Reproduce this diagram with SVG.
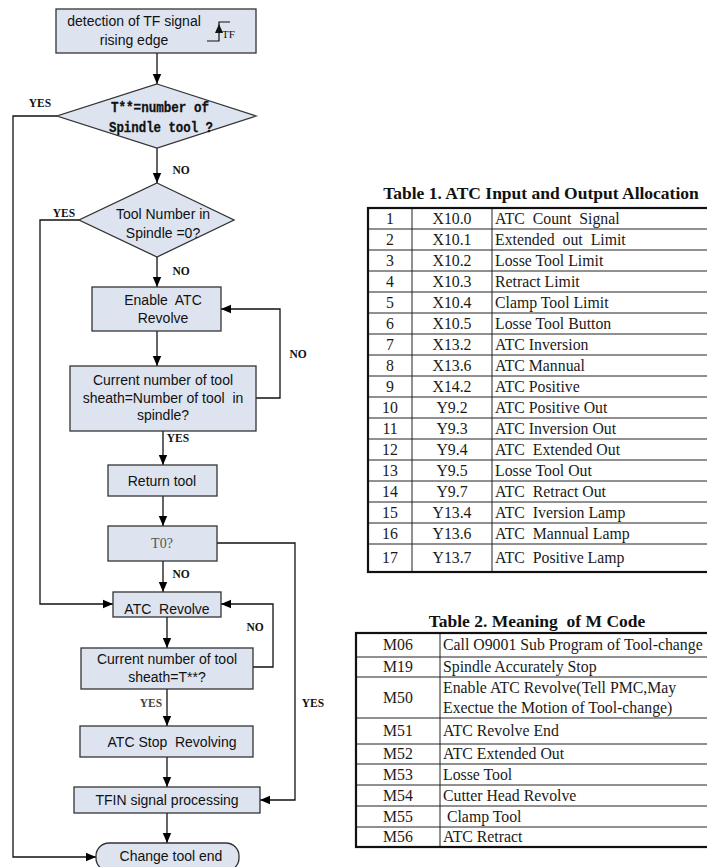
<svg xmlns="http://www.w3.org/2000/svg" width="707" height="867" viewBox="0 0 707 867">
<defs>
<marker id="arr" markerUnits="userSpaceOnUse" markerWidth="10" markerHeight="10" viewBox="0 0 10 10" refX="10" refY="5" orient="auto">
<path d="M0,0.8 L10,5 L0,9.2 Z" fill="#000"/>
</marker>
<style>
.box{fill:#dde4f0;stroke:#333;stroke-width:1.3}
.t{font-family:"Liberation Sans",Arial,sans-serif;font-size:14px;fill:#111;text-anchor:middle}
.m{font-family:"Liberation Mono","Courier New",monospace;font-size:15px;font-weight:bold;fill:#111;text-anchor:middle;stroke:#111;stroke-width:0.3}
.lb{font-family:"Liberation Serif","Times New Roman",serif;font-size:11.5px;font-weight:bold;fill:#111;text-anchor:middle}
.ca{fill:none;stroke:#111;stroke-width:1.3;marker-end:url(#arr)}
.tt{font-family:"Liberation Serif","Times New Roman",serif;font-size:17.5px;font-weight:bold;fill:#111;text-anchor:middle}
.tc{font-family:"Liberation Serif","Times New Roman",serif;font-size:15.8px;fill:#1a1a1a}
.tcc{text-anchor:middle}
.grid{stroke:#222;stroke-width:1;fill:none}
.outer{stroke:#111;stroke-width:2.2;fill:none}
</style>
</defs>
<g id="connectors">
<line class="ca" x1="157" y1="53" x2="157" y2="84"/>
<polyline class="ca" points="57,116 13,116 13,857 96,857"/>
<line class="ca" x1="157" y1="148" x2="157" y2="183"/>
<polyline class="ca" points="79,220 40,220 40,604 113,604"/>
<line class="ca" x1="157" y1="257" x2="157" y2="287"/>
<line class="ca" x1="157" y1="331" x2="157" y2="366"/>
<polyline class="ca" points="256,398 280,398 280,309 221,309"/>
<line class="ca" x1="163" y1="431" x2="163" y2="465"/>
<line class="ca" x1="163" y1="496" x2="163" y2="526"/>
<polyline class="ca" points="217,543 295,543 295,800 260,800"/>
<line class="ca" x1="163" y1="561" x2="163" y2="592"/>
<polyline class="ca" points="253,667 273,667 273,604 221,604"/>
<line class="ca" x1="167" y1="617" x2="167" y2="648"/>
<line class="ca" x1="167" y1="689" x2="167" y2="726"/>
<line class="ca" x1="167" y1="757" x2="167" y2="787"/>
<line class="ca" x1="167" y1="813" x2="167" y2="843"/>
<text class="lb" x="40" y="107">YES</text>
<text class="lb" x="181" y="174">NO</text>
<text class="lb" x="64" y="217">YES</text>
<text class="lb" x="181" y="275">NO</text>
<text class="lb" x="298" y="358">NO</text>
<text class="lb" x="178" y="442">YES</text>
<text class="lb" x="181" y="578">NO</text>
<text class="lb" x="255" y="631">NO</text>
<text class="lb" x="151" y="707" style="fill:#444">YES</text>
<text class="lb" x="313" y="707">YES</text>
</g>
<g id="n_detect">
<rect class="box" x="56" y="9" width="200" height="44"/>
<text class="t" x="134" y="26">detection of TF signal</text>
<text class="t" x="134" y="45">rising edge</text>
<polyline fill="none" stroke="#111" stroke-width="1.2" points="207,41 219,41 219,22 230,22"/>
<path d="M219,24 L215,33 L223,33 Z" fill="#111"/>
<text x="222" y="38" style="font-family:'Liberation Serif',serif;font-size:11px;fill:#111">TF</text>
</g>
<g id="n_cmp_spindle">
<polygon class="box" points="157,84 256,116 157,148 57,116"/>
<text class="m" x="160" y="112" textLength="98" lengthAdjust="spacingAndGlyphs">T**=number of</text>
<text class="m" x="161" y="132" textLength="104" lengthAdjust="spacingAndGlyphs">Spindle tool ?</text>
</g>
<g id="n_zero">
<polygon class="box" points="157,183 234,220 157,257 79,220"/>
<text class="t" x="163" y="219">Tool Number in</text>
<text class="t" x="163" y="238">Spindle =0?</text>
</g>
<g id="n_enable">
<rect class="box" x="92" y="287" width="129" height="44"/>
<text class="t" x="163" y="305">Enable&#160; ATC</text>
<text class="t" x="163" y="323">Revolve</text>
</g>
<g id="n_cur1">
<rect class="box" x="70" y="366" width="186" height="65"/>
<text class="t" x="163" y="385">Current number of tool</text>
<text class="t" x="163" y="403">sheath=Number of tool&#160; in</text>
<text class="t" x="163" y="420">spindle?</text>
</g>
<g id="n_return">
<rect class="box" x="108" y="465" width="109" height="31"/>
<text class="t" x="162" y="486">Return tool</text>
</g>
<g id="n_t0">
<rect class="box" x="108" y="526" width="109" height="35"/>
<text x="162" y="548" style="font-family:'Liberation Serif',serif;font-size:14px;fill:#555;text-anchor:middle">T0?</text>
</g>
<g id="n_revolve">
<rect class="box" x="113" y="592" width="108" height="25"/>
<text class="t" x="167" y="614">ATC&#160; Revolve</text>
</g>
<g id="n_cur2">
<rect class="box" x="81" y="648" width="172" height="41"/>
<text class="t" x="167" y="664">Current number of tool</text>
<text class="t" x="167" y="682">sheath=T**?</text>
</g>
<g id="n_stop">
<rect class="box" x="80" y="726" width="173" height="31"/>
<text class="t" x="172" y="747">ATC Stop&#160; Revolving</text>
</g>
<g id="n_tfin">
<rect class="box" x="74" y="787" width="186" height="26"/>
<text class="t" x="167" y="805">TFIN signal processing</text>
</g>
<g id="n_end">
<rect class="box" x="96" y="843" width="143" height="28" rx="13" ry="13"/>
<text class="t" x="171" y="861">Change tool end</text>
</g>
<g id="table1">
<text class="tt" x="541" y="199">Table 1. ATC Input and Output Allocation</text>
<g class="grid">
<line x1="412" y1="208" x2="412" y2="572"/>
<line x1="492" y1="208" x2="492" y2="572"/>
<line x1="368" y1="229" x2="710" y2="229"/>
<line x1="368" y1="250" x2="710" y2="250"/>
<line x1="368" y1="271" x2="710" y2="271"/>
<line x1="368" y1="292" x2="710" y2="292"/>
<line x1="368" y1="313" x2="710" y2="313"/>
<line x1="368" y1="334" x2="710" y2="334"/>
<line x1="368" y1="355" x2="710" y2="355"/>
<line x1="368" y1="376" x2="710" y2="376"/>
<line x1="368" y1="397" x2="710" y2="397"/>
<line x1="368" y1="418" x2="710" y2="418"/>
<line x1="368" y1="439" x2="710" y2="439"/>
<line x1="368" y1="460" x2="710" y2="460"/>
<line x1="368" y1="481" x2="710" y2="481"/>
<line x1="368" y1="502" x2="710" y2="502"/>
<line x1="368" y1="523" x2="710" y2="523"/>
<line x1="368" y1="544" x2="710" y2="544"/>
</g>
<rect class="outer" x="368" y="208" width="345" height="364"/>
<g class="tc">
<text class="tcc" x="390" y="224">1</text><text class="tcc" x="452" y="224">X10.0</text><text x="495" y="224">ATC&#160; Count&#160; Signal</text>
<text class="tcc" x="390" y="245">2</text><text class="tcc" x="452" y="245">X10.1</text><text x="495" y="245">Extended&#160; out&#160; Limit</text>
<text class="tcc" x="390" y="266">3</text><text class="tcc" x="452" y="266">X10.2</text><text x="495" y="266">Losse Tool Limit</text>
<text class="tcc" x="390" y="287">4</text><text class="tcc" x="452" y="287">X10.3</text><text x="495" y="287">Retract Limit</text>
<text class="tcc" x="390" y="308">5</text><text class="tcc" x="452" y="308">X10.4</text><text x="495" y="308">Clamp Tool Limit</text>
<text class="tcc" x="390" y="329">6</text><text class="tcc" x="452" y="329">X10.5</text><text x="495" y="329">Losse Tool Button</text>
<text class="tcc" x="390" y="350">7</text><text class="tcc" x="452" y="350">X13.2</text><text x="495" y="350">ATC Inversion</text>
<text class="tcc" x="390" y="371">8</text><text class="tcc" x="452" y="371">X13.6</text><text x="495" y="371">ATC Mannual</text>
<text class="tcc" x="390" y="392">9</text><text class="tcc" x="452" y="392">X14.2</text><text x="495" y="392">ATC Positive</text>
<text class="tcc" x="390" y="413">10</text><text class="tcc" x="452" y="413">Y9.2</text><text x="495" y="413">ATC Positive Out</text>
<text class="tcc" x="390" y="434">11</text><text class="tcc" x="452" y="434">Y9.3</text><text x="495" y="434">ATC Inversion Out</text>
<text class="tcc" x="390" y="455">12</text><text class="tcc" x="452" y="455">Y9.4</text><text x="495" y="455">ATC&#160; Extended Out</text>
<text class="tcc" x="390" y="476">13</text><text class="tcc" x="452" y="476">Y9.5</text><text x="495" y="476">Losse Tool Out</text>
<text class="tcc" x="390" y="497">14</text><text class="tcc" x="452" y="497">Y9.7</text><text x="495" y="497">ATC&#160; Retract Out</text>
<text class="tcc" x="390" y="518">15</text><text class="tcc" x="452" y="518">Y13.4</text><text x="495" y="518">ATC&#160; Iversion Lamp</text>
<text class="tcc" x="390" y="539">16</text><text class="tcc" x="452" y="539">Y13.6</text><text x="495" y="539">ATC&#160; Mannual Lamp</text>
<text class="tcc" x="390" y="563">17</text><text class="tcc" x="452" y="563">Y13.7</text><text x="495" y="563">ATC&#160; Positive Lamp</text>
</g>
</g>
<g id="table2">
<text class="tt" x="537" y="627">Table 2. Meaning&#160; of M Code</text>
<g class="grid">
<line x1="440" y1="633" x2="440" y2="847"/>
<line x1="356" y1="657" x2="710" y2="657"/>
<line x1="356" y1="677" x2="710" y2="677"/>
<line x1="356" y1="718" x2="710" y2="718"/>
<line x1="356" y1="744" x2="710" y2="744"/>
<line x1="356" y1="764" x2="710" y2="764"/>
<line x1="356" y1="785" x2="710" y2="785"/>
<line x1="356" y1="806" x2="710" y2="806"/>
<line x1="356" y1="827" x2="710" y2="827"/>
</g>
<rect class="outer" x="356" y="633" width="357" height="214"/>
<g class="tc">
<text class="tcc" x="398" y="650">M06</text><text x="443" y="650">Call O9001 Sub Program of Tool-change</text>
<text class="tcc" x="398" y="672">M19</text><text x="443" y="672">Spindle Accurately Stop</text>
<text class="tcc" x="398" y="703">M50</text><text x="443" y="693">Enable ATC Revolve(Tell PMC,May</text><text x="443" y="713">Exectue the Motion of Tool-change)</text>
<text class="tcc" x="398" y="736">M51</text><text x="443" y="736">ATC Revolve End</text>
<text class="tcc" x="398" y="759">M52</text><text x="443" y="759">ATC Extended Out</text>
<text class="tcc" x="398" y="780">M53</text><text x="443" y="780">Losse Tool</text>
<text class="tcc" x="398" y="801">M54</text><text x="443" y="801">Cutter Head Revolve</text>
<text class="tcc" x="398" y="822">M55</text><text x="443" y="822">&#160;Clamp Tool</text>
<text class="tcc" x="398" y="842">M56</text><text x="443" y="842">ATC Retract</text>
</g>
</g>
</svg>
